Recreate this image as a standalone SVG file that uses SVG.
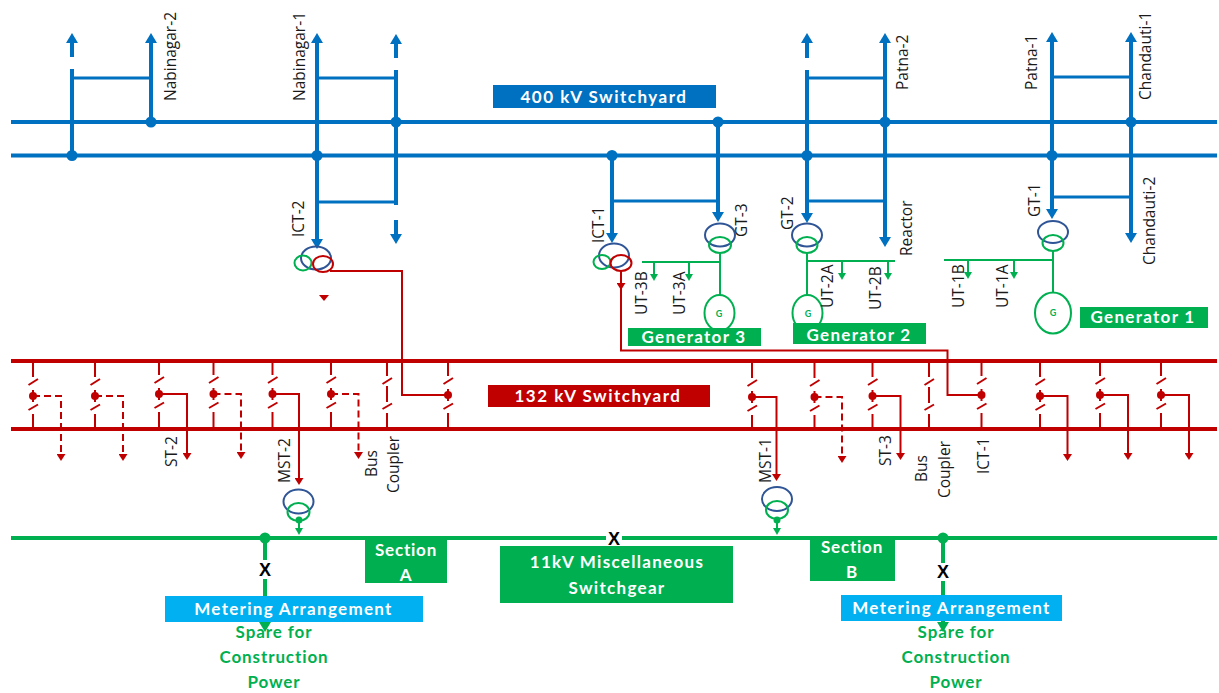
<svg xmlns="http://www.w3.org/2000/svg" xmlns:xlink="http://www.w3.org/1999/xlink" width="1219" height="693" viewBox="0 0 1219 693">
<style>
text{font-family:"Open Sans","Liberation Sans",sans-serif}
.l{font-size:15.5px;fill:#1a1a1a}
.b{font-family:Lato,"Liberation Sans",sans-serif;font-weight:700;font-size:17px;letter-spacing:1.3px;fill:#fff;text-anchor:middle}
.wide{letter-spacing:1.5px}
.tight{letter-spacing:.8px}
.s{font-family:Lato,"Liberation Sans",sans-serif;font-weight:700;font-size:17px;letter-spacing:.9px;fill:#00b050;text-anchor:middle}
.x{font-family:"Liberation Sans",sans-serif;font-weight:700;font-size:18px;fill:#000;text-anchor:middle}
.g{font-family:Lato,"Liberation Sans",sans-serif;font-weight:700;font-size:9px;fill:#00b050;text-anchor:middle}
.bl{fill:none;stroke:#0070c0;stroke-width:4}
.bt{fill:none;stroke:#0070c0;stroke-width:3}
.ba{fill:none;stroke:#0070c0;stroke-width:4;marker-end:url(#ab)}
.rb{fill:none;stroke:#c00000;stroke-width:4}
.r{fill:none;stroke:#c00000;stroke-width:2}
.ra{fill:none;stroke:#c00000;stroke-width:2;marker-end:url(#ar)}
.rd{fill:none;stroke:#c00000;stroke-width:2;stroke-dasharray:7 4;marker-end:url(#ar)}
.gb{fill:none;stroke:#00b050;stroke-width:4}
.gl{fill:none;stroke:#00b050;stroke-width:2}
.ga{fill:none;stroke:#00b050;stroke-width:2;marker-end:url(#ag)}
.gf{fill:none;stroke:#00b050;stroke-width:4;marker-end:url(#agb)}
.db{fill:#0070c0}.dg{fill:#00b050}
.hv{fill:none;stroke:#2f5597;stroke-width:2}
.lv{fill:none;stroke:#00b050;stroke-width:2}
.tr{fill:none;stroke:#c00000;stroke-width:2}
.fb{fill:#0070c0}.fr{fill:#c00000}.fg{fill:#00b050}.fc{fill:#00b0f0}
</style>
<defs>
<marker id="ab" markerUnits="userSpaceOnUse" markerWidth="10" markerHeight="12" refX="3" refY="6" orient="auto"><path d="M0,0L10,6L0,12Z" fill="#0070c0"/></marker>
<marker id="ar" markerUnits="userSpaceOnUse" markerWidth="7" markerHeight="9" refX="2" refY="4.5" orient="auto"><path d="M0,0L7,4.5L0,9Z" fill="#c00000"/></marker>
<marker id="ag" markerUnits="userSpaceOnUse" markerWidth="7" markerHeight="8" refX="3" refY="4" orient="auto"><path d="M0,0L7,4L0,8Z" fill="#00b050"/></marker>
<marker id="agb" markerUnits="userSpaceOnUse" markerWidth="10" markerHeight="12" refX="3" refY="6" orient="auto"><path d="M0,0L10,6L0,12Z" fill="#00b050"/></marker>
<g id="sw"><path class="r" d="M0,-35V-19M-4.500,-11L5,-17M-4.500,14L5,8.500M0,18V34"/></g>
<g id="bay"><use xlink:href="#sw"/><path class="r" d="M0,-6V6"/><circle r="4" class="fr"/></g>
<g id="coupler"><use xlink:href="#sw"/><path class="r" d="M0,-9V7"/></g>
</defs>

<g id="connectors">
<!-- 400 kV buses and feeders -->
<path class="bl" d="M11,122H1217M11,155.500H1217"/>
<path class="bt" d="M72,78H151M317,78H396M317,202H396M807,78H885M807,201H885M1052,77H1131M1052,197H1131M612,201H718"/>
<path class="ba" d="M72,57V40"/><path class="bl" d="M72,69V155"/>
<path class="ba" d="M151,122V40"/>
<path class="ba" d="M317,155V40"/><path class="ba" d="M317,155V242"/>
<path class="ba" d="M396,58V41"/><path class="bl" d="M396,70V205"/><path class="ba" d="M396,220V237"/>
<path class="ba" d="M612,155V236"/>
<path class="ba" d="M718,122V215"/>
<path class="ba" d="M807,58V40"/><path class="ba" d="M807,70V216"/>
<path class="ba" d="M885,122V40"/><path class="ba" d="M885,122V240"/>
<path class="ba" d="M1052,155V39"/><path class="ba" d="M1052,155V212"/>
<path class="ba" d="M1131,122V39"/><path class="ba" d="M1131,122V236"/>
<!-- 132 kV buses -->
<path class="rb" d="M11,361H1217M11,429H1217"/>
<!-- bay outlets -->
<path class="rd" d="M33,396H61V456"/>
<path class="rd" d="M95,396H123V456"/>
<path class="ra" d="M159,394H187V455"/>
<path class="rd" d="M213.500,394H241V454"/>
<path class="ra" d="M272.500,394H299V480"/>
<path class="rd" d="M331,394H358.500V454"/>
<path class="ra" d="M752,397H776.500V476"/>
<path class="rd" d="M814.500,397H842V458"/>
<path class="ra" d="M872.500,396H900.500V455"/>
<path class="ra" d="M1040,396H1067.500V456"/>
<path class="ra" d="M1100,395H1128V455"/>
<path class="ra" d="M1161,395H1189V455"/>
<!-- ICT tertiary feeds -->
<path class="r" d="M330,271H402V395H448"/>
<path class="ra" d="M621,271V285"/>
<path class="r" d="M621,285V350.500H947.500V395H981.500"/>
<!-- 11 kV bus -->
<path class="gb" d="M11,538H1217"/>
<path class="ga" d="M299,520V531"/>
<path class="ga" d="M777,520V531"/>
<path class="gf" d="M265,538V625"/>
<path class="gf" d="M943,538V625"/>
<!-- generator and unit transformer lines -->
<path class="gl" d="M720,253V296M642,262H720"/><path class="ga" d="M654,262V277"/><path class="ga" d="M689,262V277"/>
<path class="gl" d="M807,253V296M807,261H895"/><path class="ga" d="M842,261V276"/><path class="ga" d="M888,261V276"/>
<path class="gl" d="M1053,251V292M944,260H1053"/><path class="ga" d="M968,260V275"/><path class="ga" d="M1014,260V275"/>
</g>

<g id="junctions">
<circle class="db" cx="72" cy="155.500" r="5.500"/><circle class="db" cx="151" cy="122" r="5.500"/><circle class="db" cx="317" cy="155.500" r="5.500"/><circle class="db" cx="396" cy="122" r="5.500"/><circle class="db" cx="612" cy="155.500" r="5.500"/><circle class="db" cx="718" cy="122" r="5.500"/><circle class="db" cx="807" cy="155.500" r="5.500"/><circle class="db" cx="885" cy="122" r="5.500"/><circle class="db" cx="1052" cy="155.500" r="5.500"/><circle class="db" cx="1131" cy="122" r="5.500"/>
<circle class="dg" cx="265" cy="538" r="5.500"/><circle class="dg" cx="943" cy="538" r="5.500"/><circle class="dg" cx="299" cy="520" r="3.500"/><circle class="dg" cx="777" cy="520" r="3.500"/>
</g>

<g id="bays">
<use xlink:href="#bay" x="33" y="396"/><use xlink:href="#bay" x="95" y="396"/><use xlink:href="#bay" x="159" y="394"/><use xlink:href="#bay" x="213.500" y="394"/><use xlink:href="#bay" x="272.500" y="394"/><use xlink:href="#bay" x="331" y="394"/><use xlink:href="#coupler" x="387" y="395"/><use xlink:href="#bay" x="448" y="395"/>
<use xlink:href="#bay" x="752" y="397"/><use xlink:href="#bay" x="814.500" y="397"/><use xlink:href="#bay" x="872.500" y="396"/><use xlink:href="#coupler" x="929" y="396"/><use xlink:href="#bay" x="981.500" y="395"/><use xlink:href="#bay" x="1040" y="396"/><use xlink:href="#bay" x="1100" y="395"/><use xlink:href="#bay" x="1161" y="395"/>
</g>

<g id="ict-2-transformer"><ellipse class="hv" cx="316" cy="258" rx="15" ry="11.500"/><ellipse class="lv" cx="303" cy="263" rx="8.500" ry="7.500"/><ellipse class="tr" cx="323" cy="264" rx="10" ry="8"/><path class="fr" d="M319,295H329L324,301Z"/></g>
<g id="ict-1-transformer"><ellipse class="hv" cx="614" cy="255.500" rx="15" ry="12"/><ellipse class="lv" cx="602" cy="262" rx="8.500" ry="7"/><ellipse class="tr" cx="621" cy="263" rx="10.500" ry="8"/></g>
<g id="gt-3-transformer"><ellipse class="hv" cx="720" cy="235" rx="15" ry="11.500"/><ellipse class="lv" cx="720" cy="245" rx="11" ry="8"/></g>
<g id="gt-2-transformer"><ellipse class="hv" cx="807" cy="235" rx="15" ry="11.500"/><ellipse class="lv" cx="807" cy="245" rx="10.500" ry="8"/></g>
<g id="gt-1-transformer"><ellipse class="hv" cx="1053" cy="232" rx="15" ry="11"/><ellipse class="lv" cx="1053" cy="243" rx="10.500" ry="8"/></g>
<g id="mst-2-transformer"><ellipse class="hv" cx="298.500" cy="501.500" rx="15" ry="12"/><ellipse class="lv" cx="298.500" cy="512" rx="11" ry="9"/></g>
<g id="mst-1-transformer"><ellipse class="hv" cx="777" cy="499" rx="15" ry="12"/><ellipse class="lv" cx="777" cy="510" rx="11" ry="9"/></g>

<g id="gen-3-machine"><ellipse class="lv" cx="719.500" cy="313" rx="15" ry="18"/><text class="g" x="719" y="317">G</text></g>
<g id="gen-2-machine"><ellipse class="lv" cx="807.500" cy="313" rx="15" ry="18"/><text class="g" x="808" y="317">G</text></g>
<g id="gen-1-machine"><ellipse class="lv" cx="1053" cy="313" rx="18" ry="20.500"/><text class="g" x="1053" y="316">G</text></g>

<g id="box-400kv"><rect class="fb" x="493" y="85" width="223" height="23"/><text class="b wide" x="604" y="103">400 kV Switchyard</text></g>
<g id="box-132kv"><rect class="fr" x="488" y="385" width="222" height="22"/><text class="b wide" x="598" y="402">132 kV Switchyard</text></g>
<g id="box-gen3"><rect class="fg" x="628" y="328" width="133" height="18"/><text class="b" x="694" y="343">Generator 3</text></g>
<g id="box-gen2"><rect class="fg" x="793" y="323" width="133" height="21"/><text class="b" x="859" y="341">Generator 2</text></g>
<g id="box-gen1"><rect class="fg" x="1080" y="307" width="128" height="21"/><text class="b" x="1143" y="323">Generator 1</text></g>
<g id="section-a"><rect class="fg" x="365" y="538" width="82" height="45"/><text class="b tight" x="406" y="556">Section</text><text class="b tight" x="406" y="581">A</text></g>
<g id="section-b"><rect class="fg" x="810" y="538" width="85" height="43"/><text class="b tight" x="852" y="553">Section</text><text class="b tight" x="852" y="578">B</text></g>
<g id="misc-switchgear"><rect class="fg" x="500" y="546" width="233" height="57"/><text class="b" x="617" y="568">11kV Miscellaneous</text><text class="b" x="617" y="594">Switchgear</text></g>

<g id="x-left"><rect x="245" y="560" width="42" height="19" fill="#fff"/><text class="x" x="265" y="576">X</text></g>
<g id="x-right"><rect x="921" y="563" width="44" height="18" fill="#fff"/><text class="x" x="943" y="578">X</text></g>
<g id="x-center"><rect x="606" y="532" width="16" height="14" fill="#fff"/><text class="x" x="614" y="545">X</text></g>

<g id="metering-a"><rect class="fc" x="165" y="596" width="258" height="26"/><text class="b" x="293.500" y="615">Metering Arrangement</text></g>
<g id="metering-b"><rect class="fc" x="841" y="595" width="221" height="26"/><text class="b" x="951.500" y="614">Metering Arrangement</text></g>
<g id="spare-a"><text class="s" x="274" y="638">Spare for</text><text class="s" x="274" y="663">Construction</text><text class="s" x="274" y="688">Power</text></g>
<g id="spare-b"><text class="s" x="956" y="638">Spare for</text><text class="s" x="956" y="663">Construction</text><text class="s" x="956" y="688">Power</text></g>

<g id="labels">
<text class="l" transform="translate(176,101) rotate(-90)">Nabinagar-2</text>
<text class="l" transform="translate(305,101) rotate(-90)">Nabinagar-1</text>
<text class="l" transform="translate(1037,90) rotate(-90)">Patna-1</text>
<text class="l" transform="translate(908,90) rotate(-90)">Patna-2</text>
<text class="l" transform="translate(1151,100) rotate(-90)">Chandauti-1</text>
<text class="l" transform="translate(1155,265) rotate(-90)">Chandauti-2</text>
<text class="l" transform="translate(304,237) rotate(-90)">ICT-2</text>
<text class="l" transform="translate(604,243) rotate(-90)">ICT-1</text>
<text class="l" transform="translate(747,237) rotate(-90)">GT-3</text>
<text class="l" transform="translate(793,230) rotate(-90)">GT-2</text>
<text class="l" transform="translate(1040,217) rotate(-90)">GT-1</text>
<text class="l" transform="translate(912,256) rotate(-90)">Reactor</text>
<text class="l" transform="translate(647,315) rotate(-90)">UT-3B</text>
<text class="l" transform="translate(685,315) rotate(-90)">UT-3A</text>
<text class="l" transform="translate(833,308) rotate(-90)">UT-2A</text>
<text class="l" transform="translate(881,310) rotate(-90)">UT-2B</text>
<text class="l" transform="translate(964,308) rotate(-90)">UT-1B</text>
<text class="l" transform="translate(1008,308) rotate(-90)">UT-1A</text>
<text class="l" transform="translate(177,467) rotate(-90)">ST-2</text>
<text class="l" transform="translate(290,483) rotate(-90)">MST-2</text>
<text class="l" transform="translate(377,477) rotate(-90)">Bus</text>
<text class="l" transform="translate(399,493) rotate(-90)">Coupler</text>
<text class="l" transform="translate(771,483) rotate(-90)">MST-1</text>
<text class="l" transform="translate(891,466) rotate(-90)">ST-3</text>
<text class="l" transform="translate(927,482) rotate(-90)">Bus</text>
<text class="l" transform="translate(950,498) rotate(-90)">Coupler</text>
<text class="l" transform="translate(989,474) rotate(-90)">ICT-1</text>
</g>
</svg>
